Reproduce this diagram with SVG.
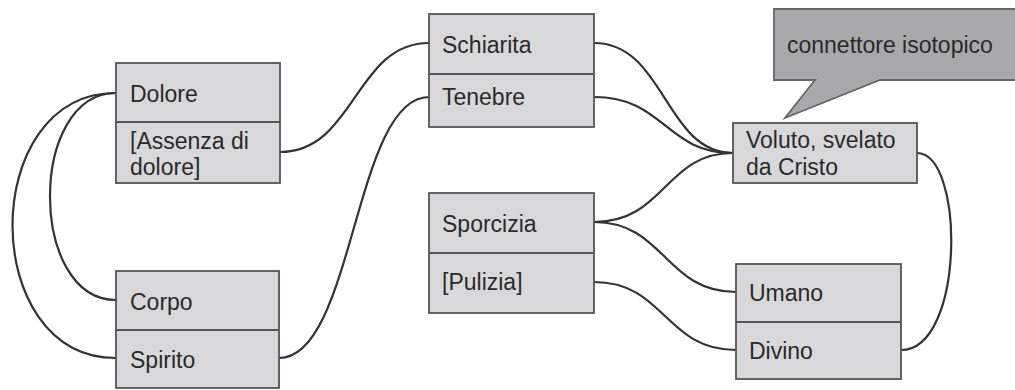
<svg xmlns="http://www.w3.org/2000/svg" width="1015" height="390" viewBox="0 0 1015 390">
<style>
.box{fill:#d8d8da;stroke:#555;stroke-width:1.8}
.div{stroke:#555;stroke-width:1.8}
.t{font-family:"Liberation Sans",Arial,sans-serif;font-size:23px;fill:#2a2a2a}
.c{fill:none;stroke:#333;stroke-width:2.2}
.call{fill:#a9a9ab;stroke:#666;stroke-width:1.8}
</style>
<rect width="1015" height="390" fill="#ffffff"/>
<g id="connectors">
<path class="c" d="M116,93 C-22,93 -22,358 116,358"/>
<path class="c" d="M116,93 C28,93 28,300 116,300"/>
<path class="c" d="M280,152 C355,152 355,43 429,43"/>
<path class="c" d="M279,358 C354,358 354,97 429,97"/>
<path class="c" d="M594,43 C665,43 665,153 733,153"/>
<path class="c" d="M594,97 C665,97 665,153 733,153"/>
<path class="c" d="M594,222 C665,222 665,153 733,153"/>
<path class="c" d="M594,222 C665,222 665,292 736,292"/>
<path class="c" d="M594,282 C665,282 665,350 736,350"/>
<path class="c" d="M917,153 C965,153 965,350 901,350"/>
</g>
<g id="dolore">
<rect class="box" x="116" y="63" width="164" height="120"/>
<line class="div" x1="116" y1="122" x2="280" y2="122"/>
<text class="t" x="130" y="102">Dolore</text>
<text class="t" x="130" y="149">[Assenza di</text>
<text class="t" x="130" y="175">dolore]</text>
</g>
<g id="corpo">
<rect class="box" x="116" y="271" width="163" height="117"/>
<line class="div" x1="116" y1="330" x2="279" y2="330"/>
<text class="t" x="130" y="310">Corpo</text>
<text class="t" x="130" y="368">Spirito</text>
</g>
<g id="schiarita">
<rect class="box" x="429" y="14" width="165" height="113"/>
<line class="div" x1="429" y1="74" x2="594" y2="74"/>
<text class="t" x="442" y="53">Schiarita</text>
<text class="t" x="442" y="105">Tenebre</text>
</g>
<g id="sporcizia">
<rect class="box" x="429" y="193" width="165" height="120"/>
<line class="div" x1="429" y1="253" x2="594" y2="253"/>
<text class="t" x="442" y="232">Sporcizia</text>
<text class="t" x="442" y="290">[Pulizia]</text>
</g>
<g id="umano">
<rect class="box" x="736" y="264" width="165" height="115"/>
<line class="div" x1="736" y1="322" x2="901" y2="322"/>
<text class="t" x="749" y="301">Umano</text>
<text class="t" x="749" y="359">Divino</text>
</g>
<g id="voluto">
<rect class="box" x="733" y="123" width="184" height="60"/>
<text class="t" x="746" y="148">Voluto, svelato</text>
<text class="t" x="746" y="175">da Cristo</text>
</g>
<g id="callout">
<path class="call" d="M774,9 H1020 V80 H880 L785,118 L815,80 H774 Z"/>
<text class="t" x="787" y="53">connettore isotopico</text>
</g>
</svg>
